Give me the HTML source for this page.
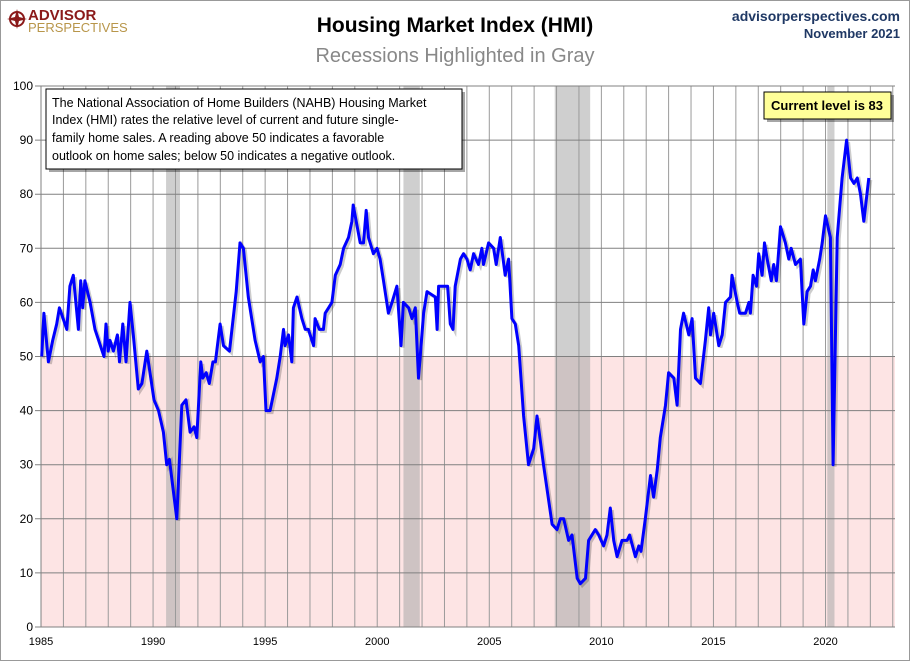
<!DOCTYPE html>
<html><head><meta charset="utf-8"><style>
body{margin:0;background:#fff;font-family:"Liberation Sans",sans-serif;}
#wrap{position:relative;width:910px;height:661px;overflow:hidden;}
</style></head><body>
<div id="wrap">
<svg id="chart" width="910" height="661" xmlns="http://www.w3.org/2000/svg">
<rect x="0.5" y="0.5" width="909" height="660" fill="#fff" stroke="#999"/>
<g>
<circle cx="17" cy="19" r="7" fill="none" stroke="#8b1a1a" stroke-width="2"/>
<path d="M17 9 L19 17 L27 19 L19 21 L17 29 L15 21 L7 19 L15 17 Z" fill="#8b1a1a"/>
<text x="28" y="20" font-size="15" font-weight="bold" fill="#8b1a1a" font-family="Liberation Sans, sans-serif">ADVISOR</text>
<text x="28" y="32" font-size="13" fill="#b8964a" font-family="Liberation Sans, sans-serif">PERSPECTIVES</text>
</g>
<text x="455" y="32" text-anchor="middle" font-size="21" font-weight="bold" fill="#000">Housing Market Index (HMI)</text>
<text x="455" y="62" text-anchor="middle" font-size="20" fill="#888">Recessions Highlighted in Gray</text>
<text x="900" y="21" text-anchor="end" font-size="14" font-weight="bold" fill="#1f3864">advisorperspectives.com</text>
<text x="900" y="38" text-anchor="end" font-size="13" font-weight="bold" fill="#1f3864">November 2021</text>
<g id="plot"></g>
<g>
<rect x="49" y="92" width="416" height="80" fill="#000" opacity="0.35"/>
<rect x="46" y="89" width="416" height="80" fill="#fff" stroke="#000"/>
<text font-size="12.5" fill="#000">
<tspan x="52" y="107">The National Association of Home Builders (NAHB) Housing Market</tspan>
<tspan x="52" y="124">Index (HMI) rates the relative level of current and future single-</tspan>
<tspan x="52" y="142">family home sales. A reading above 50 indicates a favorable</tspan>
<tspan x="52" y="160">outlook on home sales; below 50 indicates a negative outlook.</tspan>
</text>
</g>
<g>
<rect x="767" y="95" width="127" height="27" fill="#000" opacity="0.35"/>
<rect x="764" y="92" width="127" height="27" fill="#ffff99" stroke="#000"/>
<text x="827" y="110" text-anchor="middle" font-size="13" font-weight="bold" fill="#000">Current level is 83</text>
</g>
</svg>
</div>
<script>
const years = [1985.03,1985.13,1985.33,1985.52,1985.70,1985.82,1986.15,1986.29,1986.44,1986.67,1986.77,1986.86,1986.96,1987.19,1987.41,1987.81,1987.90,1988.00,1988.08,1988.23,1988.41,1988.50,1988.65,1988.79,1988.97,1989.12,1989.34,1989.50,1989.72,1990.04,1990.24,1990.46,1990.61,1990.73,1991.06,1991.28,1991.47,1991.65,1991.83,1991.95,1992.13,1992.22,1992.37,1992.51,1992.67,1992.78,1992.99,1993.14,1993.41,1993.71,1993.88,1994.03,1994.25,1994.55,1994.78,1994.92,1995.04,1995.22,1995.52,1995.67,1995.82,1995.89,1996.04,1996.19,1996.26,1996.42,1996.64,1996.79,1996.93,1997.16,1997.23,1997.42,1997.60,1997.68,1997.83,1997.98,1998.13,1998.35,1998.50,1998.72,1998.87,1998.93,1999.24,1999.39,1999.51,1999.61,1999.83,1999.99,2000.13,2000.28,2000.50,2000.66,2000.88,2001.06,2001.17,2001.40,2001.55,2001.70,2001.84,2002.07,2002.22,2002.59,2002.67,2002.74,2002.96,2003.14,2003.26,2003.38,2003.48,2003.71,2003.85,2004.00,2004.15,2004.30,2004.52,2004.67,2004.74,2004.97,2005.19,2005.31,2005.49,2005.71,2005.86,2006.01,2006.16,2006.31,2006.53,2006.75,2006.98,2007.13,2007.42,2007.80,2008.02,2008.17,2008.32,2008.54,2008.69,2008.92,2009.06,2009.29,2009.43,2009.73,2009.88,2010.10,2010.25,2010.40,2010.55,2010.70,2010.92,2011.15,2011.26,2011.52,2011.67,2011.77,2011.96,2012.19,2012.33,2012.49,2012.63,2012.86,2013.00,2013.23,2013.38,2013.53,2013.67,2013.90,2014.05,2014.20,2014.42,2014.64,2014.79,2014.87,2015.01,2015.24,2015.39,2015.54,2015.76,2015.83,2016.06,2016.17,2016.43,2016.58,2016.65,2016.77,2016.92,2017.02,2017.17,2017.28,2017.40,2017.58,2017.69,2017.81,2017.99,2018.21,2018.36,2018.47,2018.66,2018.88,2019.03,2019.18,2019.33,2019.45,2019.55,2019.74,2019.85,2020.00,2020.22,2020.34,2020.52,2020.74,2020.94,2021.12,2021.27,2021.42,2021.56,2021.71,2021.93];
const hmi = [50,58,49,53,56,59,55,63,65,55,64,59,64,60,55,50,56,51,53,51,54,49,56,49,60,54,44,45,51,42,40,36,30,31,20,41,42,36,37,35,49,46,47,45,49,49,56,52,51,62,71,70,61,53,49,50,40,40,46,50,55,52,54,49,59,61,57,55,55,52,57,55,55,58,59,60,65,67,70,72,75,78,71,71,77,72,69,70,68,64,58,60,63,52,60,59,57,59,46,58,62,61,55,63,63,63,56,55,63,68,69,68,66,69,67,70,67,71,70,67,72,65,68,57,56,52,39,30,33,39,30,19,18,20,20,16,17,9,8,9,16,18,17,15,17,22,16,13,16,16,17,13,15,14,20,28,24,29,35,41,47,46,41,55,58,54,57,46,45,53,59,54,58,52,54,60,61,65,60,58,58,60,58,65,63,69,65,71,68,64,67,64,74,71,68,70,67,68,56,62,63,66,64,68,71,76,72,30,72,83,90,83,82,83,80,75,83];
const recessionStarts = [1990.58,2001.17,2007.92,2020.08];
const recessionEnds = [1991.2,2001.9,2009.5,2020.4];
const yTicks = [0,10,20,30,40,50,60,70,80,90,100];
const xLabelYears = [1985,1990,1995,2000,2005,2010,2015,2020];
const xMin = 1985, xMax = 2023.1, yMin = 0, yMax = 100;
const L = 41, R = 895, T = 86, B = 627;
const xs = v => L + (v - xMin) / (xMax - xMin) * (R - L);
const ys = v => B - (v - yMin) / (yMax - yMin) * (B - T);
const NS = 'http://www.w3.org/2000/svg';
const plot = document.getElementById('plot');
function mk(tag, attrs, parent){const e=document.createElementNS(NS,tag);for(const k in attrs)e.setAttribute(k,attrs[k]);(parent||plot).appendChild(e);return e;}
let e;
e = mk('rect',{x:L,y:ys(50),width:R-L,height:B-ys(50),fill:'#fde4e4'});


for(let i=0;i<recessionStarts.length;i++){
  e = mk('rect',{x:xs(recessionStarts[i]),y:T,width:xs(recessionEnds[i])-xs(recessionStarts[i]),height:B-T,fill:'#a8a8a8',opacity:0.55});
  
  
}
for(let yr=1985; yr<=2023; yr++){
  e = mk('line',{x1:xs(yr),x2:xs(yr),y1:T,y2:B,stroke:'#9a9a9a','stroke-width':1});
  
  
}
yTicks.forEach(t=>{
  e = mk('line',{x1:L-6,x2:R,y1:ys(t),y2:ys(t),stroke:'#808080','stroke-width':1});
  
  
  e = mk('text',{x:L-8,y:ys(t)+4,'text-anchor':'end','font-size':12,fill:'#000'});
  e.textContent = t;
  
  
});
xLabelYears.forEach(yr=>{
  e = mk('text',{x:xs(yr),y:645,'text-anchor':'middle','font-size':11,fill:'#000'});
  e.textContent = yr;
  
  
});
e = mk('line',{x1:L,x2:L,y1:T,y2:B,stroke:'#808080'});


const d = years.map((y,i)=>(i?'L':'M')+xs(y).toFixed(1)+' '+ys(hmi[i]).toFixed(1)).join(' ');
e = mk('path',{d:d,fill:'none',stroke:'#000',opacity:0.2,'stroke-width':3,transform:'translate(2,2)'});


e = mk('path',{d:d,fill:'none',stroke:'#0000ff','stroke-width':3,'stroke-linejoin':'round'});


</script>
</body></html>
